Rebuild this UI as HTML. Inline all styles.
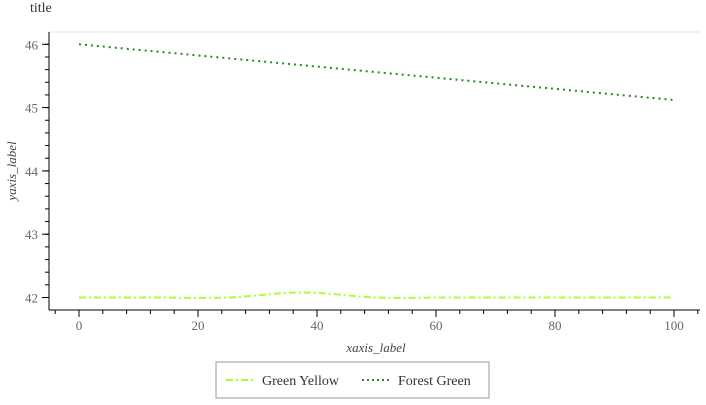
<!DOCTYPE html>
<html><head><meta charset="utf-8"><style>
body{margin:0;background:#fff;font-family:"Liberation Serif",serif}
</style></head><body>
<svg width="706" height="400" xmlns="http://www.w3.org/2000/svg">
<text x="30" y="12" font-size="14" fill="#333">title</text>
<line x1="49" y1="32" x2="700" y2="32" stroke="#e6e6e6"/>
<g id="axes"></g>
<g id="series"></g>
<text x="376" y="352" font-size="13" fill="#444" font-style="italic" text-anchor="middle">xaxis_label</text>
<text transform="translate(16,171) rotate(-90)" font-size="13" fill="#444" font-style="italic" text-anchor="middle">yaxis_label</text>
<g>
<rect x="216" y="362" width="273" height="36" fill="#fff" stroke="#999"/>
<line x1="226" y1="380" x2="256" y2="380" stroke="#adff2f" stroke-width="2" stroke-dasharray="7,3,2,3"/>
<text x="262" y="385" font-size="14" fill="#333">Green Yellow</text>
<line x1="362" y1="380" x2="392" y2="380" stroke="#228b22" stroke-width="2" stroke-dasharray="2,3"/>
<text x="398" y="385" font-size="14" fill="#333">Forest Green</text>
</g>
</svg>
<script>
const xTicks=[0,20,40,60,80,100];
const yTicks=[42,43,44,45,46];
const gyX=[0,12.5,25,37.5,50,62.5,75,87.5,100];
const gyY=[42,42,42,42.08,42,42,42,42,42];
const fgX=[0,100];
const fgY=[46.0,45.12];
const NS="http://www.w3.org/2000/svg";
const sx=v=>79+v*5.95;
const sy=v=>44.3+(46-v)*63.3;
function mk(t,a,p){const e=document.createElementNS(NS,t);for(const k in a)e.setAttribute(k,a[k]);p.appendChild(e);return e;}
const ax=document.getElementById('axes');
const yl=mk('line',{x1:49,y1:32,x2:49,y2:310,stroke:'#000'},ax);


const xl=mk('line',{x1:49,y1:310,x2:700,y2:310,stroke:'#000'},ax);


for(let v=41.8;v<=46.2;v+=0.2){const y=sy(v);if(y<32||y>310)continue;mk('line',{x1:45,y1:y,x2:49,y2:y,stroke:'#000'},ax);}
yTicks.forEach(v=>{mk('line',{x1:42,y1:sy(v),x2:49,y2:sy(v),stroke:'#000'},ax);
const t=mk('text',{x:38,y:sy(v)+5,'font-size':13,fill:'#666','text-anchor':'end'},ax);t.textContent=v;

});
for(let v=-4;v<=104;v+=4){const x=sx(v);if(x<49||x>700)continue;mk('line',{x1:x,y1:310,x2:x,y2:314,stroke:'#000'},ax);}
xTicks.forEach(v=>{mk('line',{x1:sx(v),y1:310,x2:sx(v),y2:317,stroke:'#000'},ax);
const t=mk('text',{x:sx(v),y:330,'font-size':13,fill:'#666','text-anchor':'middle'},ax);t.textContent=v;

});
function smooth(xs,ys){const p=xs.map((x,i)=>[sx(x),sy(ys[i])]);let d='M'+p[0];
for(let i=0;i<p.length-1;i++){const p0=p[i-1]||p[i],p1=p[i],p2=p[i+1],p3=p[i+2]||p2;
const c1=[p1[0]+(p2[0]-p0[0])/6,p1[1]+(p2[1]-p0[1])/6],c2=[p2[0]-(p3[0]-p1[0])/6,p2[1]-(p3[1]-p1[1])/6];
d+=' C'+c1+' '+c2+' '+p2;}return d;}
const sg=document.getElementById('series');
const g1=mk('path',{d:smooth(gyX,gyY),fill:'none',stroke:'#adff2f','stroke-width':2,'stroke-dasharray':'7,3,2,3'},sg);


const g2=mk('path',{d:smooth(fgX,fgY),fill:'none',stroke:'#228b22','stroke-width':2,'stroke-dasharray':'2,4'},sg);


</script>
</body></html>
